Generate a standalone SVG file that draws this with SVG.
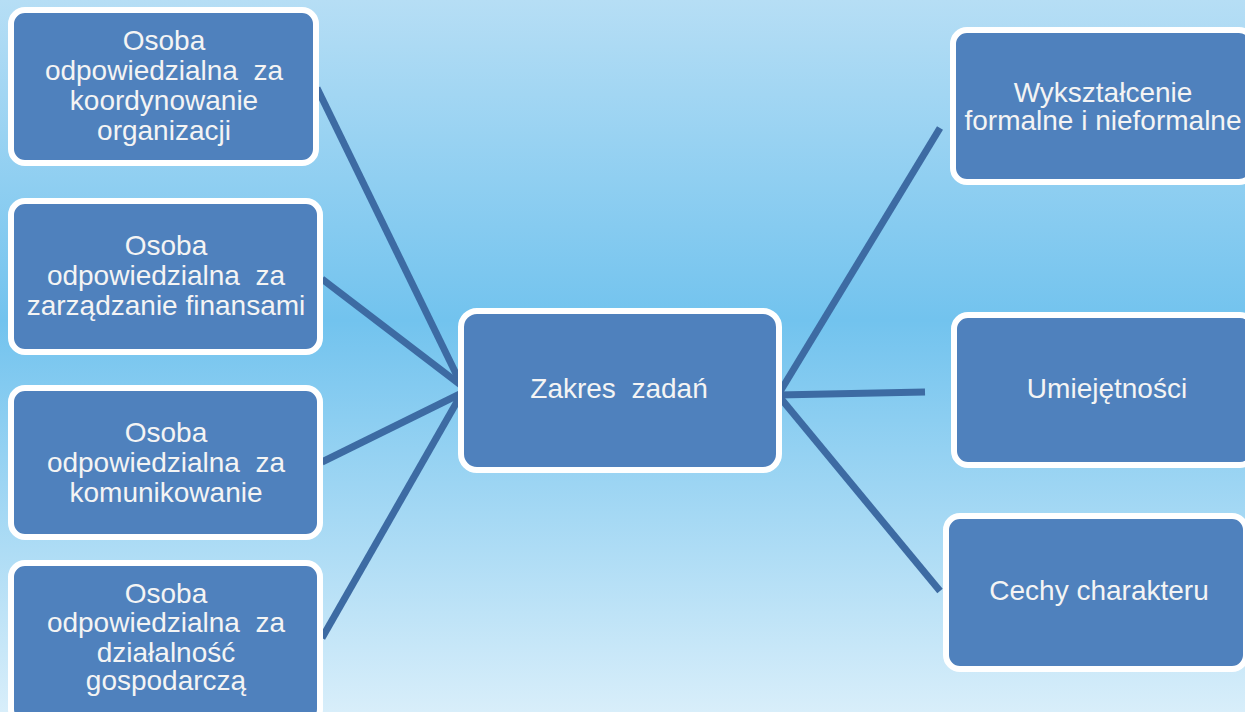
<svg xmlns="http://www.w3.org/2000/svg" width="1245" height="712" viewBox="0 0 1245 712">
<defs>
<linearGradient id="bg" x1="0" y1="0" x2="0" y2="1">
<stop offset="0" stop-color="#b6def5"/>
<stop offset="0.45" stop-color="#72c3ee"/>
<stop offset="1" stop-color="#d8eefa"/>
</linearGradient>
<style>
.box{fill:#4f81bd;stroke:#ffffff;stroke-width:6}
.t{font-family:"Liberation Sans",Arial,sans-serif;font-size:28px;fill:#f4f4f4;text-anchor:middle}
.c{stroke:#3d6ba3;stroke-width:7;fill:none}
</style>
</defs>
<rect x="0" y="0" width="1245" height="712" fill="url(#bg)"/>
<g id="connectors">
<line class="c" x1="317" y1="88" x2="462" y2="386"/>
<line class="c" x1="322" y1="279" x2="462" y2="386"/>
<line class="c" x1="322" y1="462" x2="462" y2="393"/>
<line class="c" x1="322" y1="638" x2="462" y2="393"/>
<line class="c" x1="778" y1="395" x2="940" y2="128"/>
<line class="c" x1="778" y1="395" x2="925" y2="392"/>
<line class="c" x1="778" y1="395" x2="940" y2="591"/>
</g>
<g id="n1">
<rect class="box" x="11" y="10" width="305" height="153" rx="14"/>
<text class="t" x="164" y="50">Osoba</text>
<text class="t" x="164" y="80" xml:space="preserve">odpowiedzialna  za</text>
<text class="t" x="164" y="110">koordynowanie</text>
<text class="t" x="164" y="140">organizacji</text>
</g>
<g id="n2">
<rect class="box" x="11" y="201" width="309" height="151" rx="14"/>
<text class="t" x="166" y="255">Osoba</text>
<text class="t" x="166" y="285" xml:space="preserve">odpowiedzialna  za</text>
<text class="t" x="166" y="315">zarządzanie finansami</text>
</g>
<g id="n3">
<rect class="box" x="11" y="388" width="309" height="149" rx="14"/>
<text class="t" x="166" y="442">Osoba</text>
<text class="t" x="166" y="472" xml:space="preserve">odpowiedzialna  za</text>
<text class="t" x="166" y="502">komunikowanie</text>
</g>
<g id="n4">
<rect class="box" x="11" y="563" width="309" height="160" rx="14"/>
<text class="t" x="166" y="603">Osoba</text>
<text class="t" x="166" y="632" xml:space="preserve">odpowiedzialna  za</text>
<text class="t" x="166" y="662">działalność</text>
<text class="t" x="166" y="690">gospodarczą</text>
</g>
<g id="center">
<rect class="box" x="461" y="311" width="318" height="159" rx="16"/>
<text class="t" x="619" y="398" xml:space="preserve">Zakres  zadań</text>
</g>
<g id="r1">
<rect class="box" x="953" y="30" width="300" height="152" rx="14"/>
<text class="t" x="1103" y="102">Wykształcenie</text>
<text class="t" x="1103" y="130">formalne i nieformalne</text>
</g>
<g id="r2">
<rect class="box" x="954" y="315" width="300" height="150" rx="14"/>
<text class="t" x="1107" y="398">Umiejętności</text>
</g>
<g id="r3">
<rect class="box" x="946" y="516" width="300" height="153" rx="14"/>
<text class="t" x="1099" y="600">Cechy charakteru</text>
</g>
</svg>
